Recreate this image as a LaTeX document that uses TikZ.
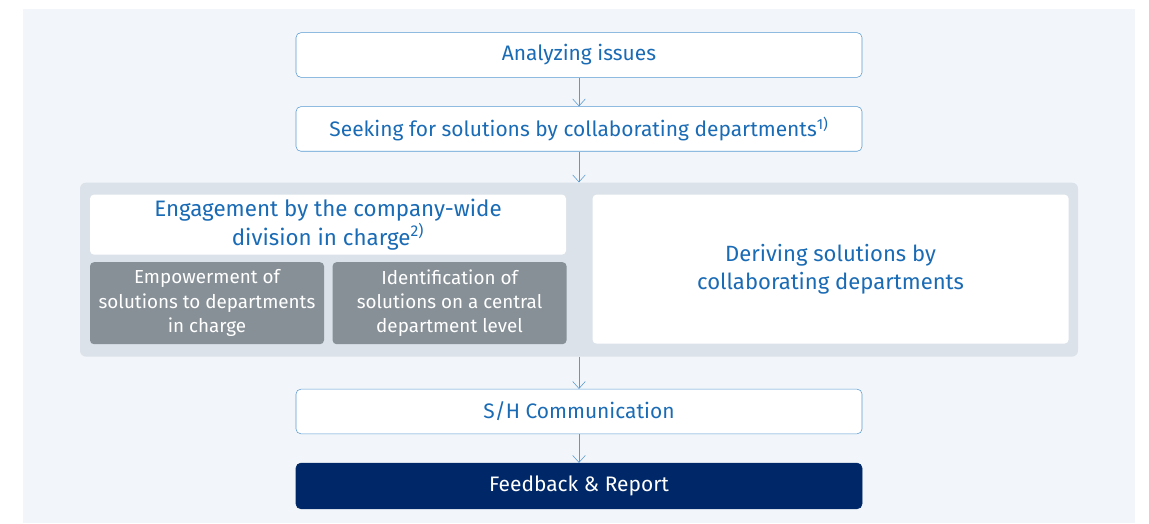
\documentclass[tikz,border=0pt]{standalone}
\usepackage{fontspec}
\setmainfont{Fira Sans}
\usetikzlibrary{positioning,arrows.meta}
\definecolor{bgblue}{HTML}{F2F6FA}
\definecolor{panelgray}{HTML}{DBE2E9}
\definecolor{boxgray}{HTML}{879097}
\definecolor{txtblue}{HTML}{1A6BB5}
\definecolor{lineblue}{HTML}{5A9AD2}
\definecolor{navy}{HTML}{002868}

\begin{document}
\begin{tikzpicture}[node distance=0.75cm]
\tikzstyle {stepbox}=[rectangle, rounded corners=0.12cm, minimum width=14.15cm, minimum height=1.115cm, inner sep=0pt, draw=lineblue, fill=white, text=txtblue, font=\fontsize{14.9}{18}\selectfont]
\tikzstyle {navybox}=[stepbox, draw=navy, fill=navy, text=white]
\tikzstyle {whitebox}=[rectangle, rounded corners=0.1cm, inner sep=0pt, fill=white, text=txtblue, align=center]
\tikzstyle {graybox}=[rectangle, rounded corners=0.1cm, inner sep=0pt, minimum width=5.85cm, minimum height=2.05cm, fill=boxgray, text=white, align=center, font=\fontsize{13.4}{17.4}\selectfont]
\tikzstyle {flow}=[draw=lineblue, -{Straight Barb[length=5pt, width=9pt]}]
% background
\fill[white] (0,0) rectangle (28.725,-13.075);
\fill[bgblue] (0.575,-0.225) rectangle (28.375,-13.075);
\useasboundingbox (0,0) rectangle (28.725,-13.075);
% main column
\node (analyze) [stepbox] at (14.475,-1.375) {Analyzing issues};
\node (seek) [stepbox, below=0.72cm of analyze] {Seeking for solutions by collaborating departments\textsuperscript{1)}};
\node (panel) [rectangle, rounded corners=0.15cm, minimum width=24.95cm, minimum height=4.35cm, fill=panelgray, below=0.77cm of seek] {};
\node (engage) [whitebox, minimum width=11.9cm, minimum height=1.5cm, font=\fontsize{15.9}{20}\selectfont, below right=0.3cm and 0.25cm of panel.north west] {Engagement by the company-wide\\division in charge\textsuperscript{2)}};
\node (empower) [graybox, below right=0.175cm and 0cm of engage.south west] {Empowerment of\\solutions to departments\\in charge};
\node (identify) [graybox, right=0.2cm of empower] {Identification of\\solutions on a central\\department level};
\node (derive) [whitebox, minimum width=11.9cm, minimum height=3.725cm, font=\fontsize{15.7}{19.4}\selectfont, below right=0cm and 0.65cm of engage.north east] {Deriving solutions by\\collaborating departments};
\node (comm) [stepbox, below=0.8cm of panel] {S/H Communication};
\node (report) [navybox, minimum height=1.14cm, below=0.72cm of comm] {Feedback \& Report};
% arrows
\draw [flow] (analyze) -- (seek);
\draw [flow] (seek) -- (panel);
\draw [flow] (panel) -- (comm);
\draw [flow] (comm) -- (report);
\end{tikzpicture}
\end{document}
